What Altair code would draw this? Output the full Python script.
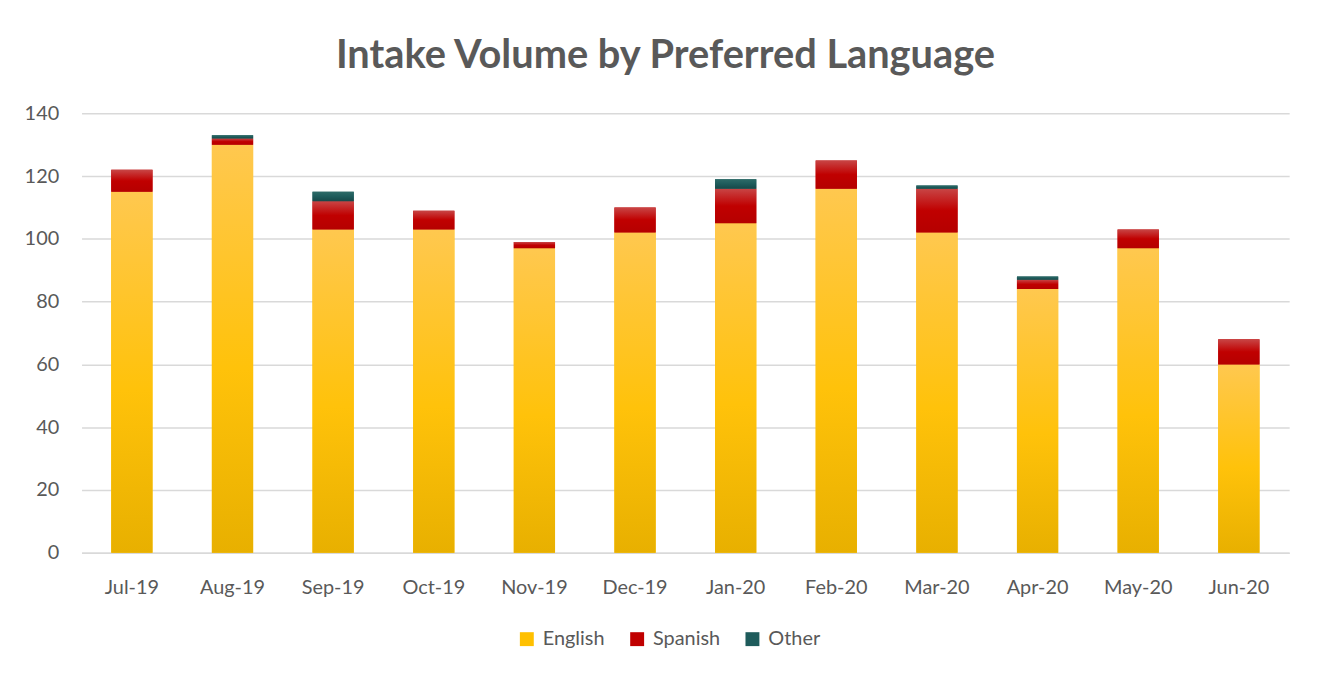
import altair as alt
import pandas as pd

months = ["Jul-19", "Aug-19", "Sep-19", "Oct-19", "Nov-19", "Dec-19",
          "Jan-20", "Feb-20", "Mar-20", "Apr-20", "May-20", "Jun-20"]
english = [115, 130, 103, 103, 97, 102, 105, 116, 102, 84, 97, 60]
spanish = [7, 2, 9, 6, 2, 8, 11, 9, 14, 3, 6, 8]
other = [0, 1, 3, 0, 0, 0, 3, 0, 1, 1, 0, 0]
languages = ["English", "Spanish", "Other"]
flat_colors = ["#FFC000", "#C00000", "#1E5B5B"]

rows = []
for i, m in enumerate(months):
    for j, (lang, vals) in enumerate(zip(languages, [english, spanish, other])):
        rows.append({"month": m, "language": lang, "value": vals[i], "order": j})
df = pd.DataFrame(rows)

GRAY = "#595959"
GRID = "#d9d9d9"
FONT = "Lato"

x_enc = alt.X("month:N", sort=months,
              scale=alt.Scale(paddingInner=0.59, paddingOuter=0.295),
              axis=alt.Axis(title=None, labelAngle=0, labelFontSize=20, labelColor=GRAY,
                            labelFont=FONT, ticks=False, domainColor=GRID, domainWidth=1.5,
                            labelPadding=25, grid=False))
y_enc = alt.Y("y0:Q", scale=alt.Scale(domain=[0, 140], nice=False),
              axis=alt.Axis(title=None, values=list(range(0, 141, 20)), labelFontSize=20,
                            labelColor=GRAY, labelFont=FONT, ticks=False, domain=False,
                            gridColor=GRID, gridWidth=1.5, labelPadding=23))
y2_enc = alt.Y2("y1:Q")

base = alt.Chart(df).transform_stack(
    stack="value", groupby=["month"], as_=["y0", "y1"],
    sort=[alt.SortField("order", order="ascending")]
)

legend_layer = base.mark_bar().encode(
    x=x_enc, y=y_enc, y2=y2_enc,
    color=alt.Color("language:N", sort=languages,
                    scale=alt.Scale(domain=languages, range=flat_colors),
                    legend=alt.Legend(title=None, orient="none", direction="horizontal",
                                      legendX=438, legendY=519, symbolType="square",
                                      symbolSize=196, symbolStrokeWidth=0, symbolOpacity=1,
                                      labelFontSize=20, labelColor=GRAY, labelFont=FONT,
                                      labelOffset=6, columnPadding=22))
)


def grad(stops):
    return alt.Gradient(gradient="linear", x1=0, x2=0, y1=0, y2=1,
                        stops=[alt.GradientStop(color=c, offset=o) for o, c in stops])


gradients = {
    "English": grad([(0, "#FFC84F"), (0.55, "#FFC20A"), (1, "#E8B000")]),
    "Spanish": grad([(0, "#C84545"), (0.5, "#C00000"), (1, "#B50000")]),
    "Other": grad([(0, "#2E6B68"), (0.5, "#1E5B5B"), (1, "#174848")]),
}

layers = [legend_layer]
for lang in languages:
    layers.append(
        base.transform_filter(alt.datum.language == lang)
        .mark_bar(fill=gradients[lang])
        .encode(x=x_enc, y=y_enc, y2=y2_enc)
    )

chart = alt.layer(*layers).properties(
    width=1215, height=442,
    title=alt.TitleParams("Intake Volume by Preferred Language", fontSize=40,
                          font=FONT, fontWeight="bold", color=GRAY, anchor="middle",
                          offset=28, dx=-20),
    padding={"left": 74, "top": 104, "right": 26, "bottom": 112},
    autosize=alt.AutoSizeParams(type="none"),
).configure_view(stroke=None)

chart.save("out.html", embed_options={"renderer": "svg", "actions": False})
